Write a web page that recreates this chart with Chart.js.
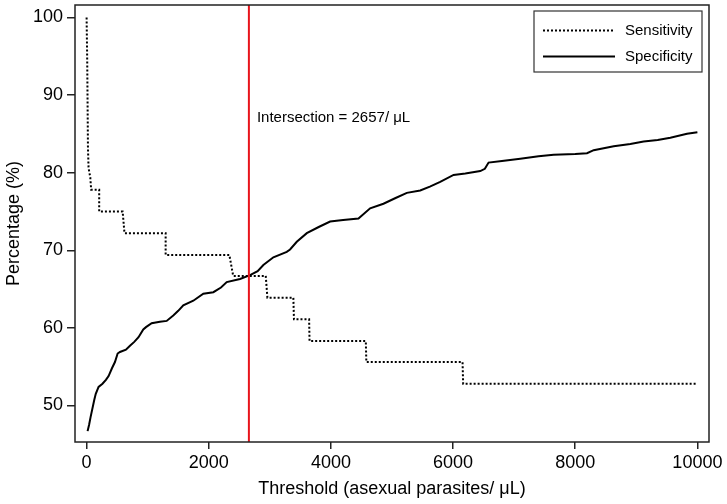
<!DOCTYPE html>
<html>
<head>
<meta charset="utf-8">
<script src="https://cdn.jsdelivr.net/npm/chart.js@4/dist/chart.umd.min.js"></script>
<style>
  html, body { margin: 0; padding: 0; background: #fff; }
  #wrap { width: 727px; height: 504px; }
</style>
</head>
<body>
<div id="wrap"><canvas id="roc"></canvas></div>
<script>
// threshold ticks / y ticks
const xTicks = [0, 2000, 4000, 6000, 8000, 10000];
const yTicks = [50, 60, 70, 80, 90, 100];
const intersection = 2657;

// Sensitivity (dotted step curve)
const sensThreshold = [0, 10, 16, 22, 32, 60, 75, 206, 206, 590, 620, 1294, 1294, 2337, 2400, 2933, 2960, 3385, 3395, 3643, 3650, 4571, 4580, 6155, 6165, 10000];
const sensValues    = [100, 94.4, 88.9, 83.3, 80.6, 79.4, 77.8, 77.8, 75.0, 75.0, 72.2, 72.2, 69.4, 69.4, 66.7, 66.7, 63.9, 63.9, 61.1, 61.1, 58.3, 58.3, 55.6, 55.6, 52.8, 52.8];

// Specificity (solid curve)
const specThreshold = [16, 40, 65, 125, 150, 196, 260, 316, 360, 415,
  464, 508, 546, 644, 710, 780, 850, 928, 972, 1065,
  1200, 1311, 1419, 1500, 1583, 1747, 1911, 2075, 2200, 2294,
  2512, 2676, 2800, 2894, 3058, 3277, 3331, 3441, 3605, 3800,
  3987, 4200, 4451, 4642, 4860, 5050, 5243, 5462, 5620, 5789,
  6008, 6200, 6445, 6520, 6581, 6800, 7100, 7400, 7646, 8000,
  8193, 8302, 8630, 8902, 9120, 9350, 9557, 9830, 10000];
const specValues = [46.7, 47.5, 48.5, 50.7, 51.5, 52.4, 52.8, 53.3, 53.8, 54.8,
  55.6, 56.7, 56.9, 57.2, 57.7, 58.2, 58.8, 59.8, 60.1, 60.6,
  60.8, 60.9, 61.6, 62.2, 62.9, 63.5, 64.4, 64.6, 65.2, 65.9,
  66.3, 66.8, 67.3, 68.1, 69.1, 69.8, 70.1, 71.1, 72.2, 73.0,
  73.7, 73.9, 74.1, 75.4, 76.0, 76.7, 77.4, 77.7, 78.2, 78.8,
  79.7, 79.9, 80.2, 80.5, 81.3, 81.5, 81.8, 82.1, 82.3, 82.4,
  82.5, 82.9, 83.4, 83.7, 84.0, 84.2, 84.5, 85.0, 85.2];

const FONT = '"Liberation Sans", Arial, sans-serif';
const DOTS = [2, 2];

const toPoints = (xs, ys) => xs.map((x, i) => ({ x: x, y: ys[i] }));

// frame, red line, annotation text and legend box
const extras = {
  id: 'extras',
  afterDatasetsDraw(chart) {
    const ctx = chart.ctx;
    const a = chart.chartArea;
    const xs = chart.scales.x, ys = chart.scales.y;
    ctx.save();

    // intersection line
    const px = xs.getPixelForValue(intersection);
    ctx.strokeStyle = '#e8141b';
    ctx.lineWidth = 2;
    ctx.beginPath();
    ctx.moveTo(px, a.top);
    ctx.lineTo(px, a.bottom);
    ctx.stroke();

    ctx.fillStyle = '#000';
    ctx.font = '15px ' + FONT;
    ctx.textBaseline = 'middle';
    ctx.textAlign = 'left';
    ctx.fillText('Intersection = ' + intersection + '/ \u03bcL', px + 8, ys.getPixelForValue(87));

    // box around the plot
    ctx.strokeStyle = '#222';
    ctx.lineWidth = 1.5;
    ctx.strokeRect(a.left, a.top, a.right - a.left, a.bottom - a.top);

    // legend
    const lx = a.right - 175, ly = a.top + 6, lw = 168, lh = 61;
    ctx.fillStyle = '#fff';
    ctx.fillRect(lx, ly, lw, lh);
    ctx.strokeStyle = '#333';
    ctx.lineWidth = 1.2;
    ctx.strokeRect(lx, ly, lw, lh);

    const rows = [
      { label: 'Sensitivity', dash: DOTS, y: ly + 19.5 },
      { label: 'Specificity', dash: [], y: ly + 45.5 }
    ];
    rows.forEach(r => {
      ctx.strokeStyle = '#000';
      ctx.lineWidth = 2;
      ctx.setLineDash(r.dash);
      ctx.beginPath();
      ctx.moveTo(lx + 9, r.y);
      ctx.lineTo(lx + 81, r.y);
      ctx.stroke();
      ctx.setLineDash([]);
      ctx.fillStyle = '#000';
      ctx.font = '15px ' + FONT;
      ctx.fillText(r.label, lx + 91, r.y);
    });
    ctx.restore();
  }
};

new Chart(document.getElementById('roc'), {
  type: 'line',
  data: {
    datasets: [
      {
        label: 'Sensitivity',
        data: toPoints(sensThreshold, sensValues),
        borderColor: '#000',
        borderWidth: 2,
        borderDash: DOTS,
        pointRadius: 0,
        tension: 0,
        fill: false
      },
      {
        label: 'Specificity',
        data: toPoints(specThreshold, specValues),
        borderColor: '#000',
        borderWidth: 2,
        pointRadius: 0,
        tension: 0,
        fill: false
      }
    ]
  },
  options: {
    responsive: true,
    maintainAspectRatio: false,
    animation: false,
    layout: { padding: { top: 5, right: 18, left: 0, bottom: 0 } },
    plugins: { legend: { display: false }, tooltip: { enabled: false } },
    scales: {
      x: {
        type: 'linear',
        min: -190,
        max: 10190,
        afterBuildTicks: s => { s.ticks = xTicks.map(v => ({ value: v })); },
        afterFit: s => { s.height = 62; s.paddingLeft = 0; s.paddingRight = 0; },
        grid: { drawOnChartArea: false, drawTicks: true, tickLength: 7, color: '#222', lineWidth: 1.5 },
        border: { display: false },
        ticks: { color: '#000', font: { family: FONT, size: 18 }, padding: 3, maxRotation: 0, autoSkip: false, callback: v => String(v) },
        title: { display: true, text: 'Threshold (asexual parasites/ \u03bcL)', color: '#000', font: { family: FONT, size: 18 }, padding: { top: 0, bottom: 4 } }
      },
      y: {
        min: 45.3,
        max: 101.6,
        afterBuildTicks: s => { s.ticks = yTicks.map(v => ({ value: v })); },
        afterFit: s => { s.width = 75; s.paddingTop = 0; s.paddingBottom = 0; },
        grid: { drawOnChartArea: false, drawTicks: true, tickLength: 8, color: '#222', lineWidth: 1.5 },
        border: { display: false },
        ticks: { color: '#000', font: { family: FONT, size: 18 }, padding: 4, callback: v => String(v) },
        title: { display: true, text: 'Percentage (%)', color: '#000', font: { family: FONT, size: 18 }, padding: { top: 3, bottom: 0 } }
      }
    }
  },
  plugins: [extras]
});
</script>
</body>
</html>
